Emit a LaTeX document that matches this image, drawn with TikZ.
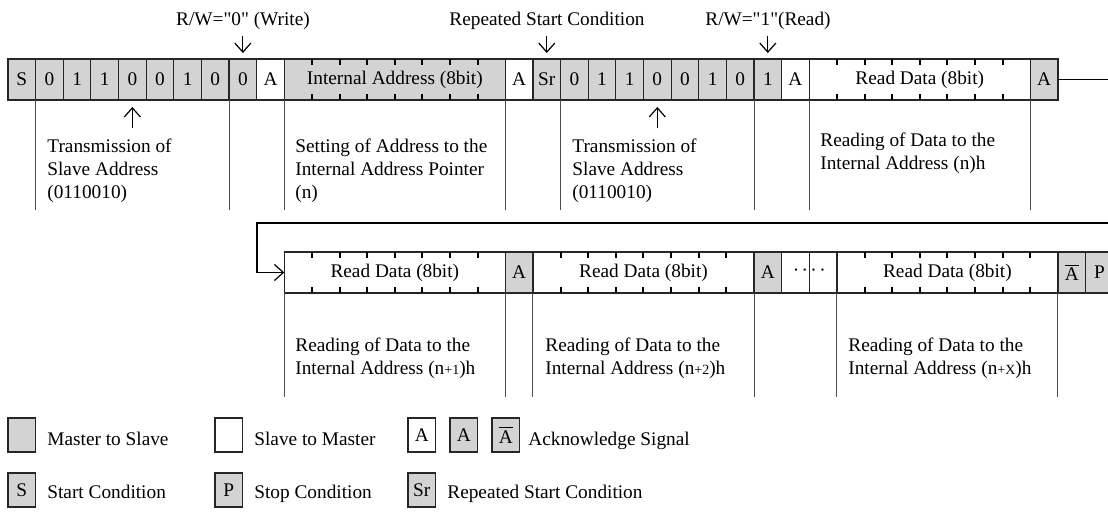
\documentclass[tikz,border=0pt]{standalone}
\usepackage{fontspec}
\setmainfont{Liberation Serif}
\usetikzlibrary{arrows.meta}
\definecolor{cellgray}{RGB}{211,211,211}
\newcommand\sq{\XeTeXglyph\the\XeTeXcharglyph"22\relax}
\newcommand\bitticks[1]{%
  \foreach \k in {1,...,7}{%
    \draw[tickmark] ([xshift=\k*13.815pt]#1.north west) -- ++(0,6);
    \draw[tickmark] ([xshift=\k*13.815pt]#1.south west) -- ++(0,-6);}}
\begin{document}
\begin{tikzpicture}[x=0.5pt,y=-0.5pt,
  font=\fontsize{9.65}{11.5}\selectfont,
  cell/.style={draw=black!85, line width=0.6pt, minimum width=13.815pt, minimum height=20.5pt, inner sep=0pt, outer sep=0pt, anchor=west},
  ms/.style={cell, fill=cellgray},
  sm/.style={cell, fill=white},
  byte/.style={minimum width=110.52pt},
  tickmark/.style={line width=1pt},
  sepline/.style={draw=black!70, line width=0.5pt},
  pointer/.style={line width=0.6pt, -{Straight Barb[length=4.5pt,width=8pt]}},
  desc/.style={anchor=north west, align=left, inner sep=0pt},
  lab/.style={anchor=base, inner sep=0pt},
  legbox/.style={cell, minimum height=17pt},
  legtext/.style={anchor=base west, inner sep=0pt}]
\clip (0,0) rectangle (1108,515);
\def\cw{27.63}
% ---------- row 1 ----------
\node[ms] (s) at (8,79.5) {S};
\foreach \b [count=\i] in {0,1,1,0,0,1,0}{\node[ms] (a\i) at ({8+\cw*\i},79.5) {\b};}
\node[ms] (rw1) at ({8+\cw*8},79.5) {0};
\node[sm] (ack1) at ({8+\cw*9},79.5) {A};
\node[ms,byte] (ia) at ({8+\cw*10},79.5) {Internal Address (8bit)};
\node[sm] (ack2) at ({8+\cw*18},79.5) {A};
\node[ms] (sr) at ({8+\cw*19},79.5) {Sr};
\foreach \b [count=\i] in {0,1,1,0,0,1,0}{\node[ms] (c\i) at ({8+\cw*(19+\i)},79.5) {\b};}
\node[ms] (rw2) at ({8+\cw*27},79.5) {1};
\node[sm] (ack3) at ({8+\cw*28},79.5) {A};
\node[sm,byte] (rd1) at ({8+\cw*29},79.5) {Read Data (8bit)};
\node[ms] (ack4) at ({8+\cw*37},79.5) {A};
\bitticks{ia}
\bitticks{rd1}
% top labels
\node[lab] (lrw0) at (243,25) {R/W=\sq0\sq{} (Write)};
\node[lab] (lsr) at (547,25) {Repeated Start Condition};
\node[lab] (lrw1) at (768,25) {R/W=\sq1\sq(Read)};
\draw[pointer] (rw1.north) ++(0,-23) -- ++(0,17);
\draw[pointer] (sr.north) ++(0,-23) -- ++(0,17);
\draw[pointer] (rw2.north) ++(0,-23) -- ++(0,17);
\draw[pointer] (a4.south) ++(0,28) -- ++(0,-21);
\draw[pointer] (c4.south) ++(0,28) -- ++(0,-21);
% separators below row 1
\foreach \p in {a1.south west, rw1.south west, ia.south west, ia.south east, c1.south west, rw2.south west, rd1.south west, rd1.south east}
  {\draw[sepline] (\p) -- ++(0,110);}
\node[desc] (d1) at (47,138.8) {Transmission of\\Slave Address\\(0110010)};
\node[desc] (d2) at (295,138.8) {Setting of Address to the\\Internal Address Pointer\\(n)};
\node[desc] (d3) at (572,138.8) {Transmission of\\Slave Address\\(0110010)};
\node[desc] (d4) at (820,132.8) {Reading of Data to the\\Internal Address (n)h};
% ---------- row 2 ----------
\node[sm,byte] (rd2) at ({8+\cw*10},272.5) {Read Data (8bit)};
\node[ms] (ack5) at ({8+\cw*18},272.5) {A};
\node[sm,byte] (rd3) at ({8+\cw*19},272.5) {Read Data (8bit)};
\node[ms] (ack6) at ({8+\cw*27},272.5) {A};
\node[sm] (dt1) at ({8+\cw*28},272.5) {};
\node[sm] (dt2) at ({8+\cw*29},272.5) {};
\node[inner sep=0pt] (dots) at (dt1.east) {\textperiodcentered\kern1.2pt\textperiodcentered\kern1.2pt\textperiodcentered\kern1.2pt\textperiodcentered};
\node[sm,byte] (rd4) at ({8+\cw*30},272.5) {Read Data (8bit)};
\node[ms] (nack) at ({8+\cw*38},272.5) {$\overline{\mbox{A}}$};
\node[ms] (p) at ({8+\cw*39},272.5) {P};
\bitticks{rd2}
\bitticks{rd3}
\bitticks{rd4}
\foreach \p in {rd2.south west, rd2.south east, rd3.south west, rd3.south east, rd4.south west, rd4.south east}
  {\draw[sepline] (\p) -- ++(0,104);}
\node[desc] (d5) at (295,337.8) {Reading of Data to the\\Internal Address (n{\fontsize{7}{8}\selectfont +1})h};
\node[desc] (d6) at (545,337.8) {Reading of Data to the\\Internal Address (n{\fontsize{7}{8}\selectfont +2})h};
\node[desc] (d7) at (848,337.8) {Reading of Data to the\\Internal Address (n{\fontsize{7}{8}\selectfont +X})h};
% return connector
\coordinate (rturn) at (1120,223);
\coordinate (lturn) at (257,223);
\draw[pointer] (ack4.east) -| (rturn) -- (lturn) |- (rd2.west);
% ---------- legend ----------
\node[legbox,fill=cellgray] (lms) at (8,435) {};
\node[legtext] (tms) at (47,445) {Master to Slave};
\node[legbox,fill=white] (lsm) at (215,435) {};
\node[legtext] (tsm) at (254,445) {Slave to Master};
\node[legbox,fill=white] (la1) at (408,435) {A};
\node[legbox,fill=cellgray] (la2) at (450,435) {A};
\node[legbox,fill=cellgray] (la3) at (492,435) {$\overline{\mbox{A}}$};
\node[legtext] (tack) at (528,445) {Acknowledge Signal};
\node[legbox,fill=cellgray] (ls) at (8,490) {S};
\node[legtext] (ts) at (47,498) {Start Condition};
\node[legbox,fill=cellgray] (lp) at (215,490) {P};
\node[legtext] (tp) at (254,498) {Stop Condition};
\node[legbox,fill=cellgray] (lsr2) at (408,490) {Sr};
\node[legtext] (tsr) at (447,498) {Repeated Start Condition};
\end{tikzpicture}
\end{document}
